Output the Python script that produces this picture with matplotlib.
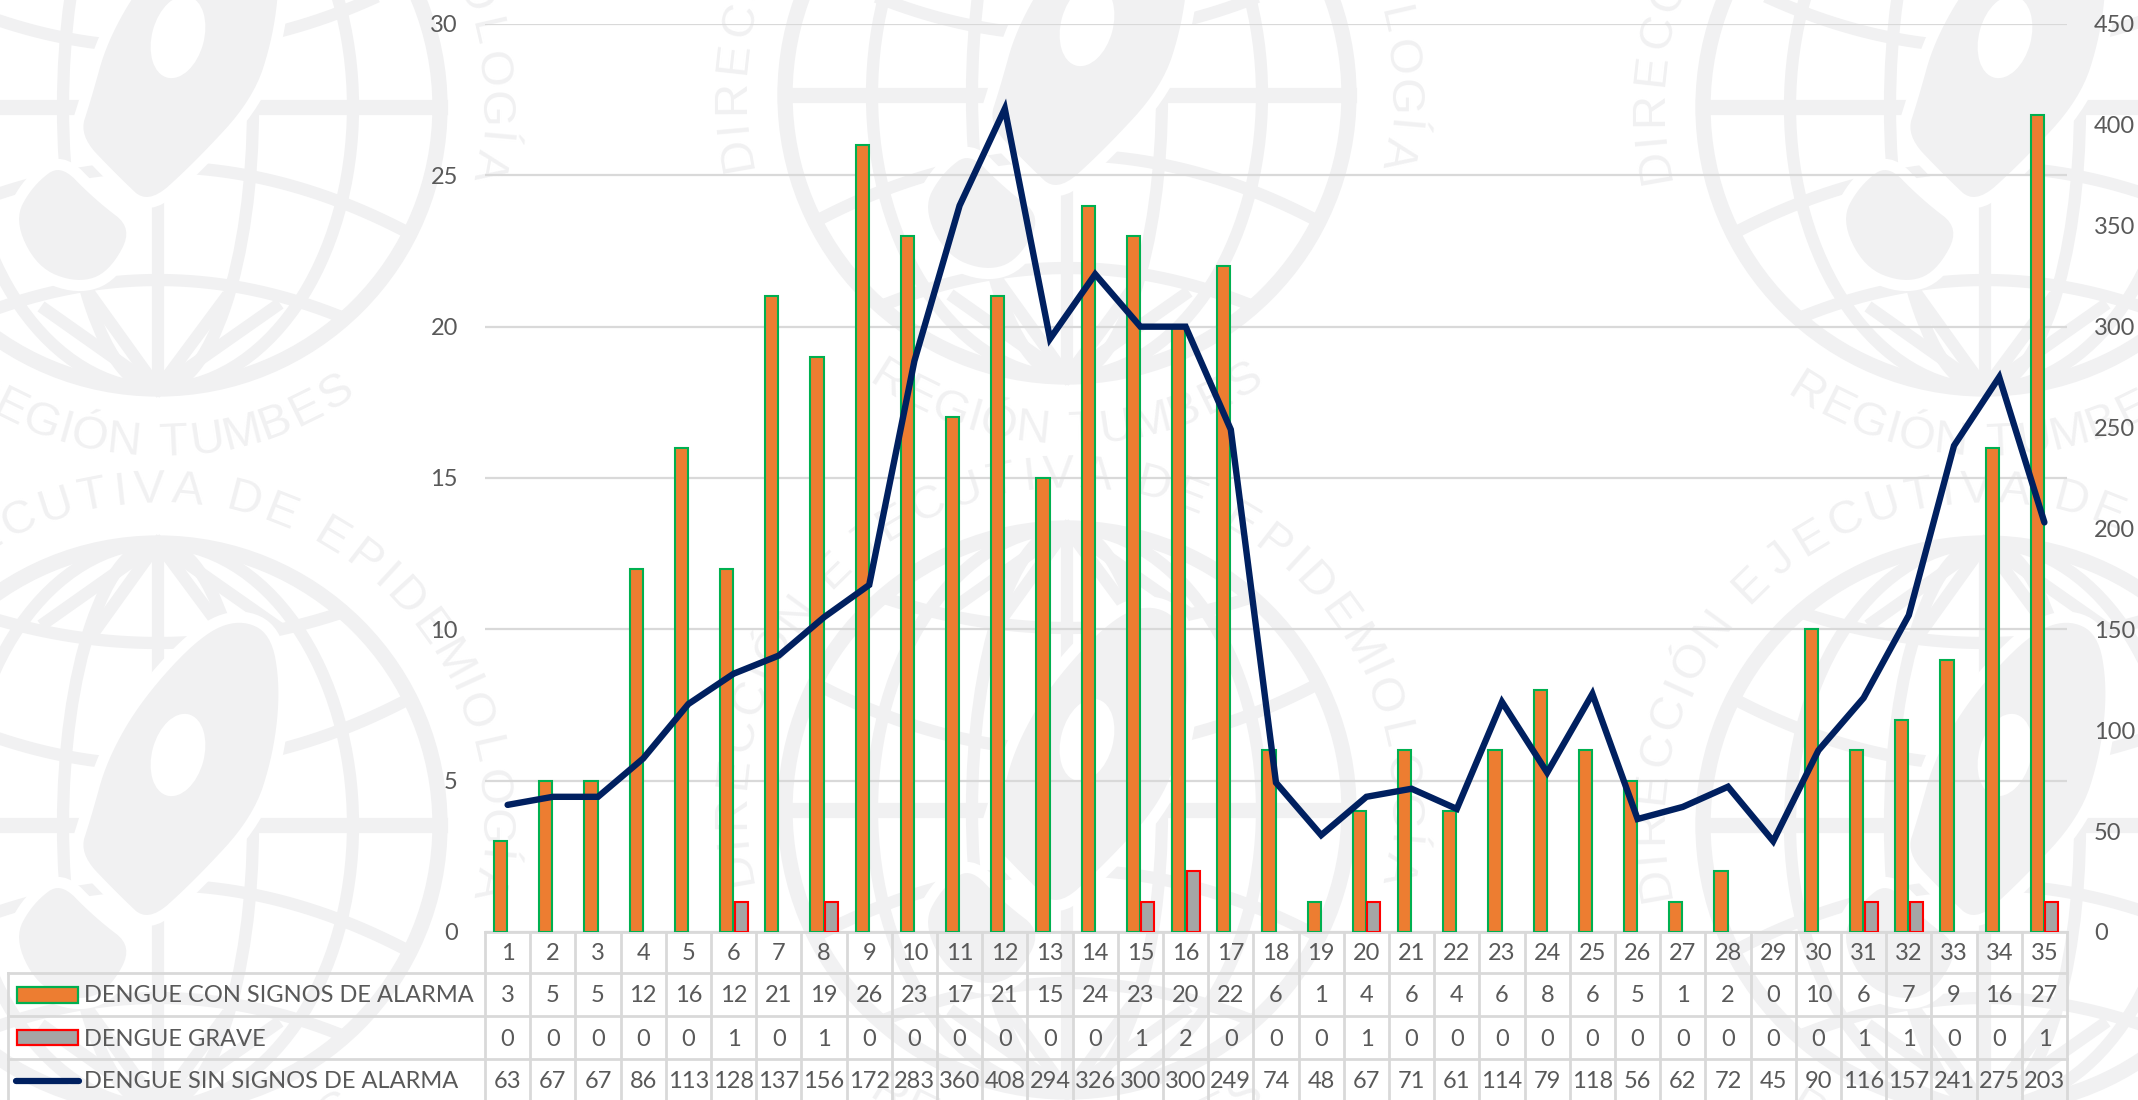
import numpy as np
import matplotlib
matplotlib.use('Agg')
import matplotlib.pyplot as plt
from matplotlib.patches import Circle, Ellipse, Polygon, Rectangle

plt.rcParams['font.family'] = ['Lato', 'DejaVu Sans']

semanas = list(range(1, 36))
con_signos = [3, 5, 5, 12, 16, 12, 21, 19, 26, 23, 17, 21, 15, 24, 23, 20, 22, 6, 1, 4,
              6, 4, 6, 8, 6, 5, 1, 2, 0, 10, 6, 7, 9, 16, 27]
grave = [0, 0, 0, 0, 0, 1, 0, 1, 0, 0, 0, 0, 0, 0, 1, 2, 0, 0, 0, 1,
         0, 0, 0, 0, 0, 0, 0, 0, 0, 0, 1, 1, 0, 0, 1]
sin_signos = [63, 67, 67, 86, 113, 128, 137, 156, 172, 283, 360, 408, 294, 326, 300, 300, 249, 74, 48, 67,
              71, 61, 114, 79, 118, 56, 62, 72, 45, 90, 116, 157, 241, 275, 203]

nombre_con = 'DENGUE CON SIGNOS DE ALARMA'
nombre_grave = 'DENGUE GRAVE'
nombre_sin = 'DENGUE SIN SIGNOS DE ALARMA'

W, H = 2138, 1100
IZQ, DER, BASE, TOPE = 485, 2067, 932, 24
GRIS_TEXTO = '#595959'
GRIS_LINEA = '#d9d9d9'
MARCA = '#f1f1f2'
LETRA = 17

fig = plt.figure(figsize=(W / 100, H / 100), dpi=100, facecolor='white')

# capa de fondo en pixeles, para la marca de agua y la leyenda
fondo = fig.add_axes([0, 0, 1, 1], zorder=0)
fondo.set_xlim(0, W)
fondo.set_ylim(H, 0)
fondo.axis('off')


def suavizar(puntos, veces=3):
    p = np.array(puntos, dtype=float)
    for _ in range(veces):
        sig = np.roll(p, -1, axis=0)
        p = np.column_stack((0.75 * p + 0.25 * sig, 0.25 * p + 0.75 * sig)).reshape(-1, 2)
    return p


def texto_arco(cx, cy, r, texto, ini, fin, arriba=True):
    # las letras estrechas ocupan menos arco
    pesos = np.array([0.45 if c in 'IÍ ' else 1.0 for c in texto])
    acum = np.cumsum(pesos) - pesos / 2
    angulos = ini + (fin - ini) * (acum - acum[0]) / (acum[-1] - acum[0])
    for letra, a in zip(texto, angulos):
        x = cx + r * np.sin(np.radians(a))
        if arriba:
            y = cy - r * np.cos(np.radians(a))
            rot = -a
        else:
            y = cy + r * np.cos(np.radians(a))
            rot = a
        fondo.text(x, y, letra, color=MARCA, fontsize=34, family='Liberation Sans',
                   rotation=rot, rotation_mode='anchor', ha='center', va='center', zorder=3)


def logo(cx, cy):
    r = 282
    grosor = 11
    fondo.add_patch(Circle((cx, cy), r, fill=False, ec=MARCA, lw=grosor, zorder=1))
    fondo.plot([cx - r, cx + r], [cy, cy], color=MARCA, lw=grosor, zorder=1)
    for a in (95, 195):
        fondo.add_patch(Ellipse((cx, cy), 2 * a, 2 * r, fill=False, ec=MARCA, lw=grosor * 0.8, zorder=1))
    for y0, k in ((173, 0.0011), (60, 0.00105), (-60, -0.00105), (-182, -0.0009)):
        xs = np.linspace(-270, 270, 60)
        ys = y0 + k * xs ** 2
        dentro = xs ** 2 + ys ** 2 < r ** 2
        fondo.plot(cx + xs[dentro], cy + ys[dentro], color=MARCA, lw=grosor * 0.8, zorder=1)
    for signo in (1, -1):
        for dx, dy in ((-66, 190), (-112, 203), (66, 193), (117, 200), (0, 100)):
            fondo.plot([cx, cx + dx], [cy + signo * r, cy + signo * dy], color=MARCA, lw=grosor * 0.8, zorder=1)
    pin = [(82, -212), (118, -195), (128, -138), (121, -70), (100, -5), (40, 60), (-10, 105),
           (-45, 72), (-85, 30), (-72, -10), (-56, -68), (-20, -130), (40, -195)]
    gota = [(-97, 50), (-60, 88), (-18, 120), (-45, 170), (-81, 182), (-125, 165), (-150, 113), (-130, 75)]
    for forma in (pin, gota):
        puntos = suavizar(forma) + (cx, cy)
        fondo.add_patch(Polygon(puntos, closed=True, fc=MARCA, ec='white', lw=8, joinstyle='round', zorder=2))
    fondo.add_patch(Ellipse((cx + 20, cy - 70), 52, 84, angle=15, fc='white', ec='none', zorder=2))
    texto_arco(cx, cy, 335, 'DIRECCIÓN EJECUTIVA DE EPIDEMIOLOGÍA', -100, 100)
    texto_arco(cx, cy, 337, 'REGIÓN TUMBES', -32, 32, arriba=False)


for cx, cy in ((158, 107), (1067, 95), (1985, 107), (158, 825), (1067, 810), (1985, 825)):
    logo(cx, cy)

ax = fig.add_axes([IZQ / W, 1 - BASE / H, (DER - IZQ) / W, (BASE - TOPE) / H], zorder=1)
ax.patch.set_alpha(0)
ax2 = ax.twinx()
ax2.patch.set_alpha(0)

x = np.array(semanas)
ancho = 0.29
con = np.array(con_signos)
gra = np.array(grave)
ax.bar(x[con > 0] - ancho / 2 - 0.01, con[con > 0], ancho, color='#ED7D31', edgecolor='#00B050', linewidth=1.5, zorder=3)
ax.bar(x[gra > 0] + ancho / 2 + 0.02, gra[gra > 0], ancho, color='#A5A5A5', edgecolor='#FF0000', linewidth=1.5, zorder=3)
ax2.plot(x, sin_signos, color='#002060', lw=4.6, solid_capstyle='round', solid_joinstyle='miter', zorder=5)

ax.set_xlim(0.5, 35.5)
ax.set_ylim(0, 30)
ax2.set_ylim(0, 450)
ax.set_yticks(range(0, 31, 5))
ax2.set_yticks(range(0, 451, 50))
ax.set_xticks([])
ax.grid(axis='y', color=GRIS_LINEA, lw=1.6, zorder=1)
ax.set_axisbelow(True)
for eje in (ax, ax2):
    for lado in eje.spines.values():
        lado.set_visible(False)
    eje.tick_params(axis='y', length=0, labelsize=LETRA, labelcolor=GRIS_TEXTO, pad=19.5)

# tabla de datos bajo el grafico
filas_y = [932, 973, 1016, 1059, 1100]
centros_y = [954, 996, 1039, 1081]
ancho_cat = (DER - IZQ) / 35
for yp in filas_y[:-1]:
    ini = IZQ if yp == filas_y[0] else 8
    fondo.plot([ini, DER], [yp, yp], color=GRIS_LINEA, lw=2, zorder=6)
for i in range(36):
    xp = IZQ + i * ancho_cat
    fondo.plot([xp, xp], [932, H], color=GRIS_LINEA, lw=2, zorder=6)
fondo.plot([8, 8], [973, H], color=GRIS_LINEA, lw=2, zorder=6)

filas = [semanas, con_signos, grave, sin_signos]
for fila, yc in zip(filas, centros_y):
    for i, valor in enumerate(fila):
        fondo.text(IZQ + (i + 0.5) * ancho_cat, yc, str(valor), color=GRIS_TEXTO, fontsize=LETRA,
                   ha='center', va='center', zorder=7)

for nombre, yc in zip((nombre_con, nombre_grave, nombre_sin), centros_y[1:]):
    fondo.text(84, yc, nombre, color=GRIS_TEXTO, fontsize=LETRA, ha='left', va='center', zorder=7)
fondo.add_patch(Rectangle((17, 987), 61, 16, fc='#ED7D31', ec='#00B050', lw=1.6, zorder=7))
fondo.add_patch(Rectangle((17, 1030), 61, 15, fc='#A5A5A5', ec='#FF0000', lw=1.6, zorder=7))
fondo.plot([16, 79], [1081, 1081], color='#002060', lw=4.5, solid_capstyle='round', zorder=7)

fig.savefig('out.png', dpi=100)
